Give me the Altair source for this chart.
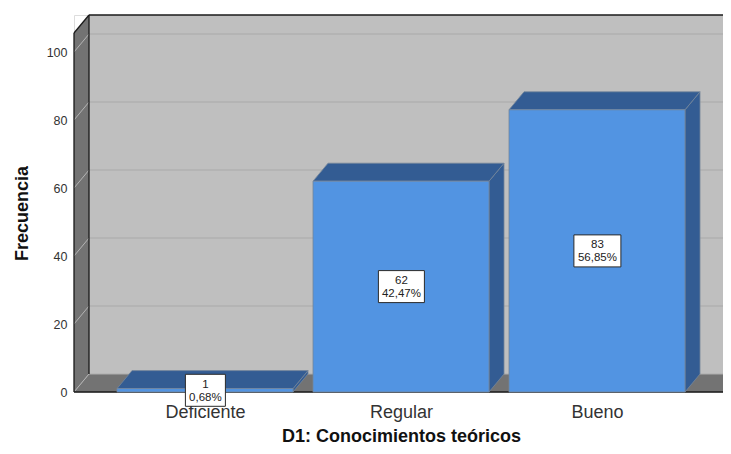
import json
import altair as alt
import pandas as pd

categories = ["Deficiente", "Regular", "Bueno"]
counts = [1, 62, 83]
percents = ["0,68%", "42,47%", "56,85%"]
y_ticks = [0, 20, 40, 60, 80, 100]
x_title = "D1: Conocimientos teóricos"
y_title = "Frecuencia"

STEP_PX = 196.0
UNIT_PX = 3.4
LEFT_PX = 74.0
RIGHT_PX = 723.0
TOP_PX = 15.0
BASE_PX = 392.0
FIRST_PX = 205.0
HALF = 88.0 / STEP_PX
DX = 15.0 / STEP_PX
DY = 18.0 / UNIT_PX
WALL_LEFT = (LEFT_PX - FIRST_PX) / STEP_PX
WALL_RIGHT = (RIGHT_PX - FIRST_PX) / STEP_PX
Y_MAX = (BASE_PX - TOP_PX) / UNIT_PX
WALL_TOP = Y_MAX - DY

FONT = "Liberation Sans"
xs = alt.Scale(domain=[WALL_LEFT, WALL_RIGHT], nice=False, zero=False)
ys = alt.Scale(domain=[0, Y_MAX], nice=False, zero=False)
X = alt.X("x:Q", scale=xs, axis=None)
Y = alt.Y("y:Q", scale=ys, axis=None)
X2 = alt.X2("x2:Q")
Y2 = alt.Y2("y2:Q")

WALL = "#737373"
BACK = "#bfbfbf"
FACE = "#5294e2"
DARK = "#335c93"
EDGE = "#75869b"
INK = "#1a1a1a"


def rect(x, x2, y, y2, color, stroke=None):
    kw = {"stroke": stroke, "strokeWidth": 0.8} if stroke else {}
    return alt.Chart(pd.DataFrame({"x": [x], "x2": [x2], "y": [y], "y2": [y2]})).mark_rect(
        color=color, **kw).encode(x=X, x2=X2, y=Y, y2=Y2)


def vface(x0, x1, y0a, y0b, y1a, y1b, color, stroke=None):
    kw = {"stroke": stroke, "strokeWidth": 0.8} if stroke else {}
    df = pd.DataFrame({"x": [x0, x1], "y": [y0a, y1a], "y2": [y0b, y1b]})
    return alt.Chart(df).mark_area(color=color, orient="vertical", opacity=1, **kw).encode(x=X, y=Y, y2=Y2)


def hface(y0, y1, x0a, x0b, x1a, x1b, color, stroke=None):
    kw = {"stroke": stroke, "strokeWidth": 0.8} if stroke else {}
    df = pd.DataFrame({"y": [y0, y1], "x": [x0a, x1a], "x2": [x0b, x1b]})
    return alt.Chart(df).mark_area(color=color, orient="horizontal", opacity=1, **kw).encode(
        x=X, x2=X2, y=Y)


def seg(x0, y0, x1, y1, color, w=1.0):
    df = pd.DataFrame({"x": [x0, x1], "y": [y0, y1], "o": [0, 1]})
    return alt.Chart(df).mark_line(color=color, strokeWidth=w).encode(x=X, y=Y, order="o:Q")


BL = WALL_LEFT + DX
layers = []

# axes carrier
axis_df = pd.DataFrame({"x": [0, 1, 2], "y": y_ticks[:3]})
label_expr = "%s[datum.value]" % json.dumps(categories, ensure_ascii=False)
layers.append(
    alt.Chart(axis_df).mark_point(opacity=0).encode(
        x=alt.X("x:Q", scale=xs, axis=alt.Axis(
            values=[0, 1, 2], labelExpr=label_expr, grid=False, domain=False, ticks=False,
            labelFont=FONT, labelFontSize=18, labelColor="#333333", labelPadding=11,
            labelFlush=False, labelOverlap=False,
            title=x_title, titleFont=FONT, titleFontSize=18, titleFontWeight="bold",
            titleColor="#111111", titleY=44, titleX=(401 - LEFT_PX), titleAnchor="middle",
            titleBaseline="middle")),
        y=alt.Y("y:Q", scale=ys, axis=alt.Axis(
            values=y_ticks, grid=False, domain=False, ticks=False,
            labelFont=FONT, labelFontSize=12.5, labelColor="#333333", labelPadding=7,
            title=y_title, titleFont=FONT, titleFontSize=18, titleFontWeight="bold",
            titleColor="#111111", titleX=22 - LEFT_PX, titleY=213 - TOP_PX,
            titleAngle=270, titleAlign="center", titleBaseline="middle")),
    )
)

# back wall, floor, left wall
layers.append(rect(BL, WALL_RIGHT, DY, Y_MAX, BACK))
layers.append(vface(WALL_LEFT, BL, 0, WALL_TOP, DY, Y_MAX, WALL))
layers.append(hface(0, DY, WALL_LEFT, WALL_RIGHT, BL, WALL_RIGHT, WALL))

# gridlines
for v in y_ticks[1:]:
    layers.append(seg(BL, v + DY, WALL_RIGHT, v + DY, "#b0b0b0", 1.4))
for v in y_ticks[1:]:
    layers.append(seg(WALL_LEFT, v, BL, v + DY, "#b4b4b4", 1.0))
layers.append(seg(BL, DY, WALL_RIGHT, DY, "#adadad", 1.0))
layers.append(seg(WALL_LEFT, 0, BL, DY, "#b4b4b4", 1.0))

# frame lines
layers.append(seg(WALL_LEFT, 0, WALL_LEFT, WALL_TOP, INK, 1.3))
layers.append(seg(BL, DY, BL, Y_MAX, INK, 1.3))
layers.append(seg(BL, Y_MAX, WALL_RIGHT, Y_MAX, INK, 1.3))
layers.append(seg(WALL_LEFT, WALL_TOP, BL, Y_MAX, INK, 1.3))
layers.append(seg(WALL_LEFT, 0, WALL_RIGHT, 0, INK, 1.3))

# bars
for i, c in enumerate(counts):
    a, b = i - HALF, i + HALF
    layers.append(vface(b, b + DX, 0, c, DY, c + DY, DARK, EDGE))
    layers.append(hface(c, c + DY, a, b, a + DX, b + DX, DARK, EDGE))
    layers.append(rect(a, b, 0, c, FACE, EDGE))

# labels
box_w = [40, 46, 47]
for i, c in enumerate(counts):
    df = pd.DataFrame({"x": [i + 0.002], "y": [c / 2.0], "t": ["%d\n%s" % (c, percents[i])]})
    layers.append(alt.Chart(df).mark_rect(
        width=box_w[i], height=32, color="white", stroke="#2a2a2a", strokeWidth=1).encode(x=X, y=Y))
    layers.append(alt.Chart(df).mark_text(
        font=FONT, fontSize=11.5, color="#222222", lineBreak="\n", lineHeight=13,
        align="center", baseline="middle", dy=-5.5).encode(x=X, y=Y, text="t:N"))

chart = alt.layer(*layers).resolve_axis(x="independent", y="independent").properties(
    width=RIGHT_PX - LEFT_PX,
    height=BASE_PX - TOP_PX,
    padding={"left": LEFT_PX - 8, "top": TOP_PX - 8, "right": 0, "bottom": 54},
    autosize=alt.AutoSizeParams(type="none"),
).configure_view(stroke=None).configure(background="white")

chart.save("out.html", embed_options={"renderer": "svg", "actions": False})
